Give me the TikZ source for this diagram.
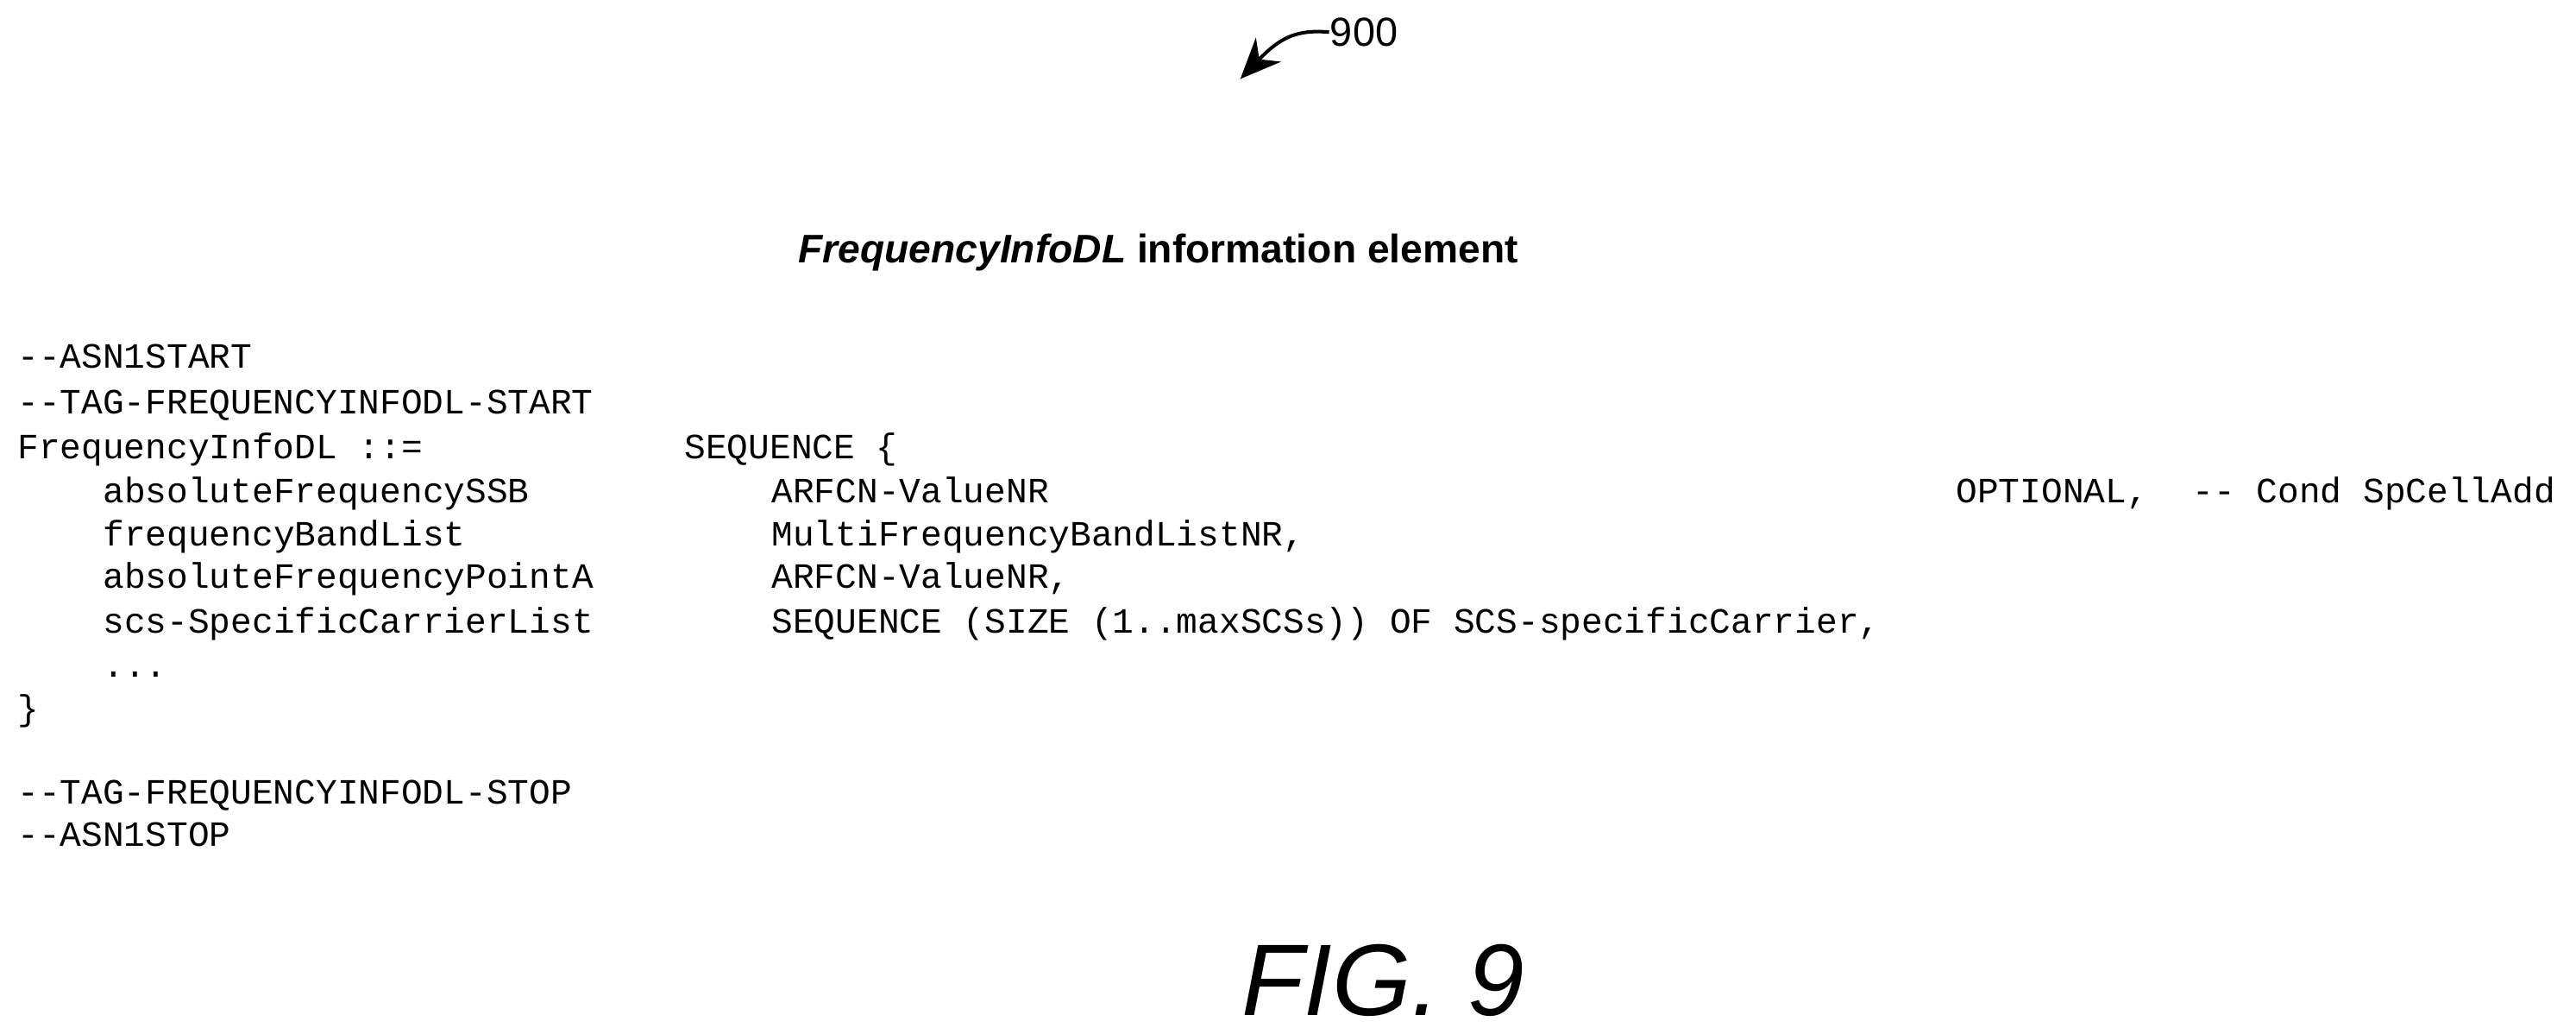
\documentclass[tikz,border=0pt]{standalone}
\usepackage{fontspec}
\usetikzlibrary{arrows.meta}
\setmainfont{Liberation Sans}
\setmonofont{Liberation Mono}
\begin{document}
\begin{tikzpicture}[x=0.01cm,y=-0.01cm,
  code/.style={anchor=base west,inner sep=0pt,font=\ttfamily\fontsize{6.15pt}{7pt}\selectfont}]
\useasboundingbox (0,0) rectangle (1568,629);
\node[anchor=base west,inner sep=0pt,font=\fontsize{7pt}{8pt}\selectfont] (num) at (809,28) {900};
\coordinate (tip) at (755,48);
\draw[line width=0.6pt,-{Stealth[length=7pt,width=6pt]}] (num.west) .. controls (790,18) and (780,22) .. (tip);
\node[anchor=base,inner sep=0pt,font=\bfseries\fontsize{6.9pt}{8pt}\selectfont] (title) at (705,160) {\textit{FrequencyInfoDL} information element};
\node[code] (l1) at (10,224) {--ASN1START};
\node[code] (l2) at (10,252) {--TAG-FREQUENCYINFODL-START};
\node[code] (l3) at (10,279) {FrequencyInfoDL ::=};
\node[code] (l4) at (10,438) {\}};
\node[code] (l5) at (10,489) {--TAG-FREQUENCYINFODL-STOP};
\node[code] (l6) at (10,515) {--ASN1STOP};
\node[code] (f1) at (62,306) {absoluteFrequencySSB};
\node[code] (f2) at (62,332) {frequencyBandList};
\node[code] (f3) at (62,358) {absoluteFrequencyPointA};
\node[code] (f4) at (62,385) {scs-SpecificCarrierList};
\node[code] (f5) at (62,412) {...};
\node[code] (s0) at (416,279) {SEQUENCE \{};
\node[code] (t1) at (469,306) {ARFCN-ValueNR};
\node[code] (t2) at (469,332) {MultiFrequencyBandListNR,};
\node[code] (t3) at (469,358) {ARFCN-ValueNR,};
\node[code] (t4) at (469,385) {SEQUENCE (SIZE (1..maxSCSs)) OF SCS-specificCarrier,};
\node[code] (o1) at (1190,306) {OPTIONAL,};
\node[code] (c1) at (1334,306) {-- Cond SpCellAdd};
\node[anchor=base,inner sep=0pt,font=\itshape\fontsize{17.6pt}{20pt}\selectfont] (fig) at (842,618) {FIG. 9};
\end{tikzpicture}
\end{document}
